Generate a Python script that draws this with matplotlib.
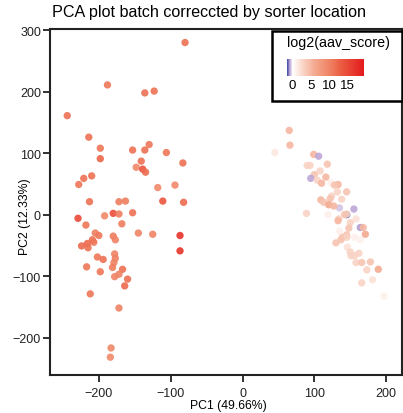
import numpy as np
import matplotlib
matplotlib.use("Agg")
import matplotlib.pyplot as plt
from matplotlib.colors import LinearSegmentedColormap, Normalize
from matplotlib.patches import Rectangle
import matplotlib.colorbar as mcolorbar

plt.rcParams['font.family'] = ['Liberation Sans', 'DejaVu Sans']

# left cluster (batch A)
pc1_a = [-80, -188, -136, -123, -244, -214, -198, -198, -153, -130, -136, -106, -83, -141, -148, -139,
         -135, -221, -210, -228, -118, -94, -213, -172, -163, -111, -82, -229, -192, -180, -172, -153,
         -218, -168, -145, -125, -87, -87, -205, -200, -209, -207, -216, -224, -215, -180, -177, -202,
         -194, -178, -177, -179, -181, -167, -217, -198, -172, -178, -160, -164, -212, -172, -183, -184]
pc2_a = [280, 211, 198, 201, 161, 126, 108, 91, 105, 114, 105, 101, 84, 87, 77, 74,
         69, 59, 63, 49, 44, 48, 21, 21, 22, 22, 20, -6, -2, 2, 1, 3,
         -17, -15, -30, -32, -34, -59, -30, -34, -41, -45, -47, -51, -54, -35, -41, -69,
         -73, -64, -71, -78, -86, -89, -85, -93, -97, -101, -105, -116, -129, -152, -217, -232]
score_a = [11.5, 11, 11.5, 11.5, 11.5, 11.5, 11, 12.5, 11.5, 11, 11.5, 11, 11.5, 11.5, 9.5, 14,
           12, 11.5, 11.5, 11, 9.5, 9.5, 11.5, 10.5, 10.5, 14, 12, 15, 9.5, 14.5, 10.5, 11.5,
           11, 10.5, 10, 10, 17, 17, 10.5, 11, 11.5, 11, 12, 12, 11.5, 10.5, 10, 11,
           11.5, 10, 10, 10, 10.5, 11.5, 11, 11, 10, 10, 11.5, 12, 11, 10, 9.5, 9.5]

# right cluster (batch B)
pc1_b = [145, 65, 66, 45, 99, 106, 94, 90, 118, 108, 100, 116, 95, 104, 110, 123, 133, 128, 145, 132,
         124, 122, 138, 109, 113, 120, 135, 127, 155, 145, 142, 89, 119, 134, 158, 133, 150, 164, 168,
         148, 135, 171, 145, 139, 145, 156, 164, 130, 137, 146, 150, 162, 151, 156, 158, 166, 178, 173,
         189, 166, 181, 197]
pc2_b = [0, 137, 113, 101, 98, 95, 80, 80, 82, 71, 65, 61, 59, 56, 51, 52, 49, 48, 37, 37,
         30, 26, 25, 24, 20, 16, 11, 14, 9, 1, 0, 2, 0, -7, -7, -10, -13, -21, -21,
         -22, -27, -32, -33, -37, -37, -37, -41, -46, -41, -53, -61, -63, -67, -67, -78, -78, -77, -90,
         -89, -111, -106, -133]
score_b = [-1.5, 5, 5, 1.5, 5, -0.7, 3, 3, 4, 3, 4, 5, -0.7, 3, 5, 1, 5, 4, 4, 3,
           3, 4, 3, 5, 4, 6, -0.5, 5, -0.7, 3, 4, 3, 1, 3, 2, 5, 3, -0.8, 5,
           4, 1, 6, 4, 4, 3, 1, 1, 4, 4, 2, 3, 3, 3, 3, 3, 4, 4, 3,
           6, 3, 2, 1]

cb_ticks = [0, 5, 10, 15]
vmin, vmax = -1.5, 19.5

stops = [(-1.5, "#3e4ca6"), (-0.75, "#c0a8d8"), (0, "#ffffff"), (3, "#f9d2c4"),
         (6, "#f4aa90"), (10, "#ef8364"), (13, "#ec5f44"), (19.5, "#e31a1c")]
cmap = LinearSegmentedColormap.from_list(
    "bwr2", [((v - vmin) / (vmax - vmin), c) for v, c in stops])
norm = Normalize(vmin, vmax)

fig = plt.figure(figsize=(4.03, 4.14), dpi=100)
ax = fig.add_axes([50 / 403, 1 - 376 / 414, 352 / 403, 346 / 414])

ax.scatter(pc1_b, pc2_b, c=score_b, cmap=cmap, norm=norm, s=28, alpha=0.9, linewidths=0)
ax.scatter(pc1_a, pc2_a, c=score_a, cmap=cmap, norm=norm, s=28, alpha=0.9, linewidths=0)

ax.set_xlim(-268, 222)
ax.set_ylim(-261, 302)
ax.set_xticks([-200, -100, 0, 100, 200])
ax.set_yticks([-200, -100, 0, 100, 200, 300])
ax.set_xticklabels(["\u2212200", "\u2212100", "0", "100", "200"])
ax.set_yticklabels(["\u2212200", "\u2212100", "0", "100", "200", "300"])
ax.tick_params(direction='out', length=5, width=1.3, labelsize=9, colors='#222222')
ax.tick_params(axis='x', pad=4)
ax.tick_params(axis='y', pad=1.5)
for s in ax.spines.values():
    s.set_linewidth(1.5)
    s.set_color('#222222')
ax.set_xlabel("PC1 (49.66%)", fontsize=8.8)
ax.set_ylabel("PC2 (12.33%)", fontsize=8.8)
ax.xaxis.set_label_coords(0.506, -0.068)
ax.yaxis.set_label_coords(-0.054, 0.46)

fig.text(52 / 403, 1 - 12 / 414, "PCA plot batch correccted by sorter location",
         fontsize=11.6, va='center', ha='left')

# legend box
fig.add_artist(Rectangle((272 / 403, 1 - 102 / 414), 130 / 403, 70 / 414,
                         transform=fig.transFigure, facecolor='white',
                         edgecolor='black', linewidth=1.8, zorder=5))
fig.text(287 / 403, 1 - 43 / 414, "log2(aav_score)", fontsize=10.3, va='center', ha='left', zorder=6)
cax = fig.add_axes([287 / 403, 1 - 77 / 414, 77 / 403, 17 / 414], zorder=6)
cb = mcolorbar.ColorbarBase(cax, cmap=cmap, norm=norm, orientation='horizontal', ticks=cb_ticks)
cb.outline.set_visible(False)
cax.tick_params(length=0, labelsize=9.5, pad=2)

fig.savefig("out.png", dpi=100)
